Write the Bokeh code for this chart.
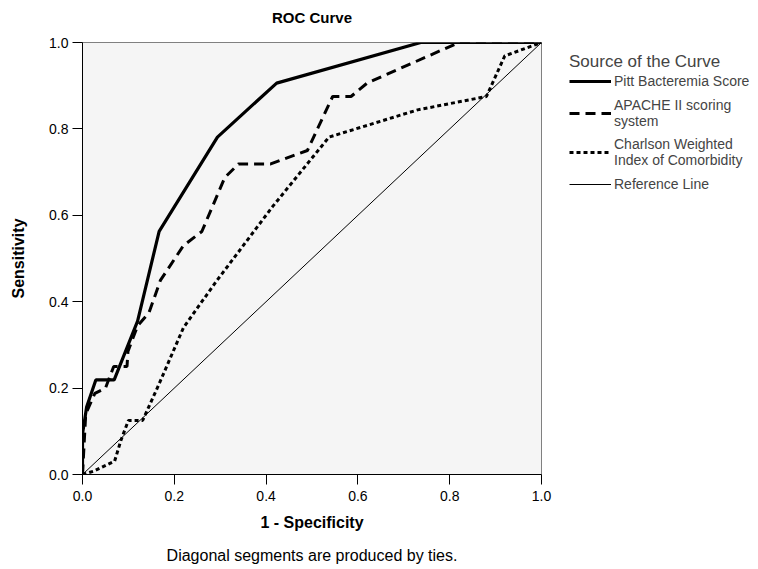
from bokeh.plotting import figure
from bokeh.models import Legend, LegendItem, FixedTicker, NumeralTickFormatter, LinearAxis
from bokeh.embed import file_html
from bokeh.resources import INLINE

# ---- data ----
pitt_fpr = [0.0, 0.0, 0.009, 0.029, 0.069, 0.12, 0.167, 0.294, 0.423, 0.737, 1.0]
pitt_tpr = [0.0, 0.094, 0.156, 0.219, 0.219, 0.355, 0.563, 0.781, 0.906, 1.0, 1.0]

apache_fpr = [0.0, 0.007, 0.027, 0.05, 0.068, 0.097, 0.099, 0.12, 0.145, 0.17, 0.22, 0.26,
              0.31, 0.34, 0.41, 0.49, 0.545, 0.585, 0.62, 0.82, 1.0]
apache_tpr = [0.0, 0.14, 0.188, 0.2, 0.25, 0.25, 0.285, 0.344, 0.375, 0.45, 0.53, 0.5625,
              0.6875, 0.719, 0.719, 0.75, 0.875, 0.875, 0.906, 1.0, 1.0]

charl_fpr = [0.0, 0.025, 0.07, 0.084, 0.1, 0.131, 0.167, 0.22, 0.29, 0.414, 0.537, 0.73, 0.88, 0.92, 1.0]
charl_tpr = [0.0, 0.008, 0.031, 0.08, 0.125, 0.125, 0.21, 0.34, 0.445, 0.62, 0.781, 0.844, 0.875, 0.969, 1.0]

ref_x = [0.0, 1.0]
ref_y = [0.0, 1.0]

ticks = [0.0, 0.2, 0.4, 0.6, 0.8, 1.0]
labels = ["Pitt Bacteremia Score", "APACHE II scoring\nsystem",
          "Charlson Weighted\nIndex of Comorbidity", "Reference Line"]
title_text = "ROC Curve"
caption_text = "Diagonal segments are produced by ties."

FONT = "Liberation Sans"

p = figure(frame_width=459, frame_height=432, width=758, height=569,
           x_range=(0, 1), y_range=(0, 1),
           output_backend="svg", toolbar_location=None,
           min_border_left=82, min_border_top=42, min_border_bottom=95, min_border_right=217,
           background_fill_color="#f5f5f5", border_fill_color="white")

p.outline_line_color = "#808080"
p.outline_line_width = 1
p.grid.visible = False

for ax in (p.xaxis[0], p.yaxis[0]):
    ax.ticker = FixedTicker(ticks=ticks)
    ax.formatter = NumeralTickFormatter(format="0.0")
    ax.major_tick_out = 10
    ax.major_tick_in = 0
    ax.minor_tick_line_color = None
    ax.axis_line_color = "black"
    ax.major_tick_line_color = "black"
    ax.major_label_text_font = FONT
    ax.major_label_text_font_size = "14px"
    ax.major_label_text_color = "black"
    ax.axis_label_text_font = FONT
    ax.axis_label_text_font_size = "16px"
    ax.axis_label_text_font_style = "bold"
    ax.axis_label_text_color = "black"

p.xaxis.axis_label = "1 - Specificity"
p.yaxis.axis_label = "Sensitivity"
p.xaxis.major_label_standoff = 6
p.xaxis.axis_label_standoff = 10
p.yaxis.major_label_standoff = 4
p.yaxis.axis_label_standoff = 19


def text_axis(text, size, style, standoff):
    a = LinearAxis(ticker=FixedTicker(ticks=[]), axis_label=text,
                   axis_line_color=None, major_tick_line_color=None, minor_tick_line_color=None,
                   major_tick_out=0, major_tick_in=0, minor_tick_out=0, minor_tick_in=0,
                   major_label_standoff=0, axis_label_standoff=standoff,
                   axis_label_text_font=FONT, axis_label_text_font_size=size,
                   axis_label_text_font_style=style, axis_label_text_color="black")
    return a


p.add_layout(text_axis(title_text, "15px", "bold", 17), "above")
p.add_layout(text_axis(caption_text, "16px", "normal", 13), "below")

r_pitt = p.line(pitt_fpr, pitt_tpr, line_color="black", line_width=3.2)
r_apache = p.line(apache_fpr, apache_tpr, line_color="black", line_width=3, line_dash="10 6")
r_charl = p.line(charl_fpr, charl_tpr, line_color="black", line_width=3, line_dash="4 3")
r_ref = p.line(ref_x, ref_y, line_color="black", line_width=1)

legend = Legend(items=[LegendItem(label=labels[0], renderers=[r_pitt]),
                       LegendItem(label=labels[1], renderers=[r_apache]),
                       LegendItem(label=labels[2], renderers=[r_charl]),
                       LegendItem(label=labels[3], renderers=[r_ref])],
                location=(28, 281), margin=0, padding=0,
                title="Source of the Curve", title_text_font=FONT, title_text_font_size="17px",
                title_text_font_style="normal", title_standoff=0,
                label_text_font=FONT, label_text_font_size="14px", label_text_line_height=1.2,
                label_height=18, glyph_height=18, glyph_width=42, label_standoff=3, spacing=7,
                border_line_color=None, background_fill_color=None)
p.add_layout(legend, "right")

open("out.html", "w").write(file_html(p, INLINE))
